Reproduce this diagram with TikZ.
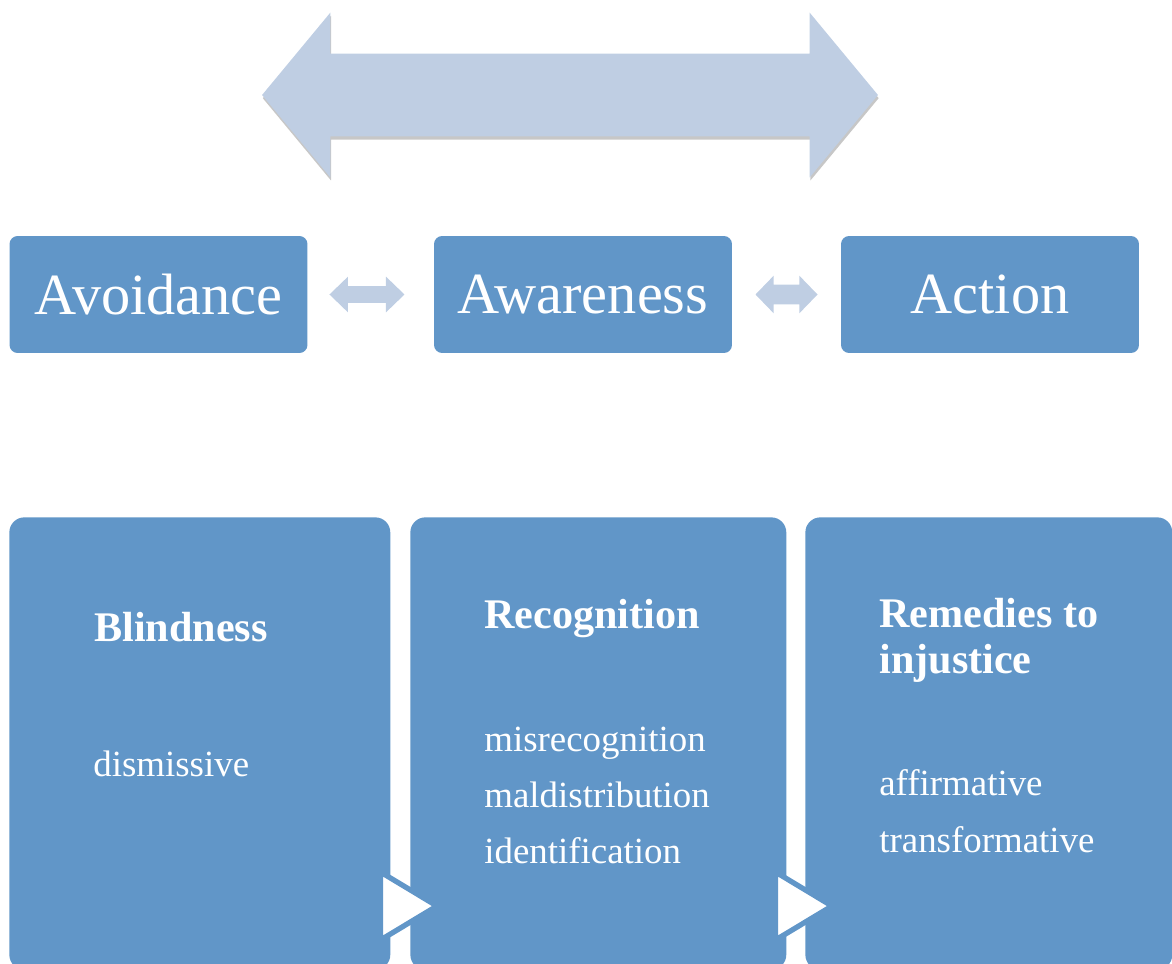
\documentclass[tikz,border=0pt]{standalone}
\usepackage{fontspec}
\setmainfont{Liberation Serif}
\usepackage{xcolor}
\usetikzlibrary{shapes.arrows, shadows, positioning, calc}

\definecolor{boxblue}{RGB}{97,150,200}
\definecolor{paleblue}{RGB}{191,206,227}

\begin{document}
\begin{tikzpicture}[x=0.02cm, y=-0.02cm,
    stagebox/.style={fill=boxblue, rounded corners=0.16cm, minimum width=5.96cm, minimum height=2.34cm, text=white, font=\fontsize{33.2}{38}\selectfont},
    columnbox/.style={fill=boxblue, rounded corners=0.3cm, anchor=north west, minimum height=9.05cm},
    headtext/.style={text=white, anchor=base west, inner sep=0pt, font=\bfseries\fontsize{24}{28}\selectfont},
    itemtext/.style={text=white, anchor=base west, inner sep=0pt, font=\fontsize{21}{25}\selectfont},
    swing/.style={double arrow, fill=paleblue, inner xsep=0pt, minimum width=0pt},
    pointer/.style={fill=white, draw=boxblue, line width=3pt, line join=round}]
    \useasboundingbox (0,0) rectangle (1172,963);

    \node[swing, double arrow tip angle=100.7, double arrow head extend=0.82cm, inner ysep=0.82cm, minimum height=12.32cm, drop shadow={shadow xshift=0.4pt, shadow yshift=-1.8pt, fill=black!22, opacity=1}] (spectrum) at (570,95) {};

    \node[stagebox] (avoid) at (158.5,294.5) {Avoidance};
    \node[stagebox] (aware) at (583,294.5) {Awareness};
    \node[stagebox] (act) at (990,294.5) {Action};

    \path (avoid.east) -- (aware.west) node[pos=0.47, swing, double arrow tip angle=88, double arrow head extend=0.19cm, inner ysep=0.16cm, minimum height=1.5cm] (link1) {};
    \path (aware.east) -- (act.west) node[midway, swing, double arrow tip angle=92, double arrow head extend=0.18cm, inner ysep=0.19cm, minimum height=1.24cm] (link2) {};

    \node[columnbox, minimum width=7.62cm] (blind) at (9,517) {};
    \node[columnbox, minimum width=7.52cm] (recog) at (410,517) {};
    \node[columnbox, minimum width=7.34cm] (remedy) at (805,517) {};

    \filldraw[pointer] (380.5,872) -- (437,906) -- (380.5,940) -- cycle;
    \filldraw[pointer] (775.5,872) -- (832,906) -- (775.5,940) -- cycle;

    \node[headtext] (blindhead) at (94,641) {Blindness};
    \node[itemtext] (blindtext) at (93,776) {dismissive};

    \node[headtext] (recoghead) at (484,628) {Recognition};
    \node[itemtext] (recogone) at (484,751) {misrecognition};
    \node[itemtext] (recogtwo) at (484,807) {maldistribution};
    \node[itemtext] (recogthree) at (484,863) {identification};

    \node[headtext] (remedyhead) at (879,627) {Remedies to};
    \node[headtext] (remedyheadtwo) at (879,673) {injustice};
    \node[itemtext] (remedyone) at (879,795) {affirmative};
    \node[itemtext] (remedytwo) at (879,852) {transformative};
\end{tikzpicture}
\end{document}
